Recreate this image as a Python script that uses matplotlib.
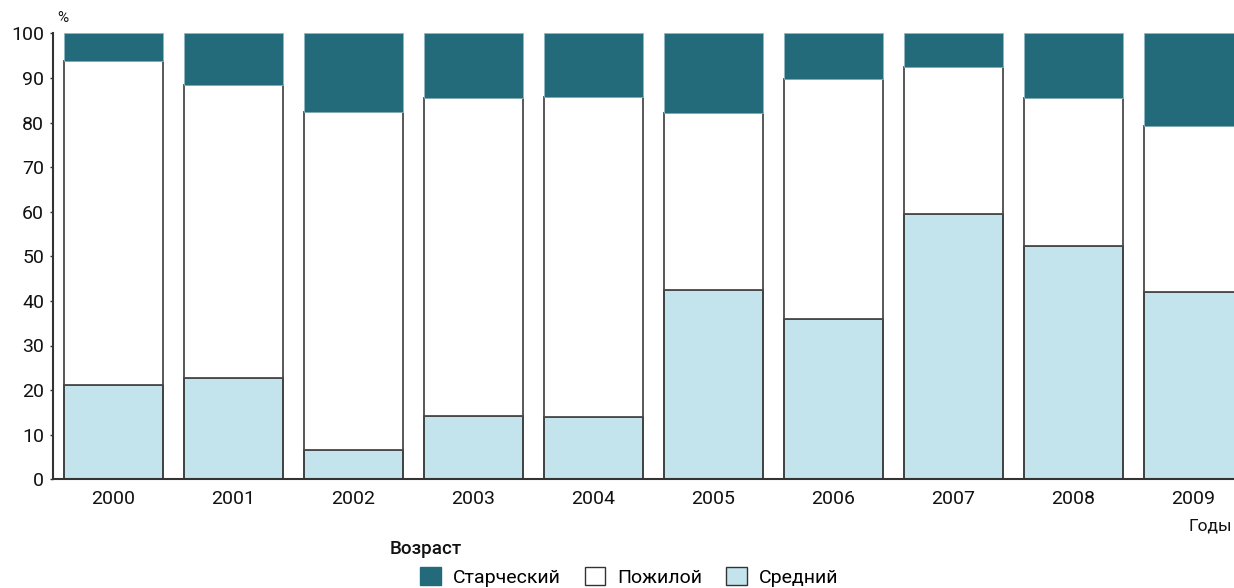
import matplotlib
matplotlib.use("Agg")
import matplotlib.pyplot as plt
from matplotlib.patches import Patch
import numpy as np

plt.rcParams['font.family'] = ['Roboto', 'DejaVu Sans']

years = ['2000', '2001', '2002', '2003', '2004', '2005', '2006', '2007', '2008', '2009']
middle = [21.2, 22.7, 6.5, 14.3, 13.9, 42.4, 35.9, 59.5, 52.2, 42.0]   # Средний
elderly_top = [93.8, 88.3, 82.4, 85.4, 85.8, 82.1, 89.8, 92.4, 85.4, 79.2]  # cumulative upper edge of Пожилой
elderly = [t - m for t, m in zip(elderly_top, middle)]
senile = [100 - t for t in elderly_top]  # Старческий

series_labels = ['Старческий', 'Пожилой', 'Средний']
legend_title = 'Возраст'

c_senile = '#236B7A'
c_elderly = '#FFFFFF'
c_middle = '#C3E4EC'
c_line = '#333333'
c_text = '#111111'

fig = plt.figure(figsize=(12.34, 5.88), dpi=100)
ax = fig.add_axes([53 / 1234, (588 - 479.3) / 588, 1 - 53 / 1234, (479.3 - 33.3) / 588])

x = np.arange(len(years))
w = 0.825
ax.bar(x, middle, width=w, color=c_middle, edgecolor=c_line, linewidth=1.3, zorder=3)
ax.bar(x, elderly, width=w, bottom=middle, color=c_elderly, edgecolor='#4a4a4a', linewidth=1.3, zorder=3)
ax.bar(x, senile, width=w, bottom=elderly_top, color=c_senile, edgecolor='#8fb8c2', linewidth=0.6, zorder=3)

ax.set_xlim(-0.504, 9.3375)
ax.set_ylim(0, 100)
ax.set_yticks(np.arange(0, 101, 10))
ax.set_xticks(x)
ax.set_xticklabels(years)

for s in ['top', 'right']:
    ax.spines[s].set_visible(False)
for s in ['left', 'bottom']:
    ax.spines[s].set_color(c_line)
    ax.spines[s].set_linewidth(1.5)
    ax.spines[s].set_zorder(4)

ax.tick_params(axis='y', length=2.5, width=1, color=c_line, pad=4, labelsize=14, labelcolor=c_text)
ax.tick_params(axis='x', length=0, pad=8, labelsize=14, labelcolor=c_text)

fig.text(57 / 1234, 1 - 18 / 588, '%', fontsize=11, va='center', ha='left', color=c_text)
fig.text(1232 / 1234, 1 - 526 / 588, 'Годы', fontsize=12.5, va='center', ha='right', color=c_text)
fig.text(390 / 1234, 1 - 549 / 588, legend_title, fontsize=13.5, fontweight='medium',
         va='center', ha='left', color=c_text)

handles = [
    Patch(facecolor=c_senile, edgecolor=c_senile),
    Patch(facecolor=c_elderly, edgecolor='#333333', linewidth=1),
    Patch(facecolor=c_middle, edgecolor='#333333', linewidth=1),
]
fig.legend(handles, series_labels, loc='center left', bbox_to_anchor=(420 / 1234, 1 - 577 / 588),
           ncol=3, frameon=False, fontsize=14, handlelength=1.07, handleheight=1.07,
           handletextpad=0.6, columnspacing=1.25, borderpad=0, borderaxespad=0)

fig.savefig('out.png', dpi=100)
